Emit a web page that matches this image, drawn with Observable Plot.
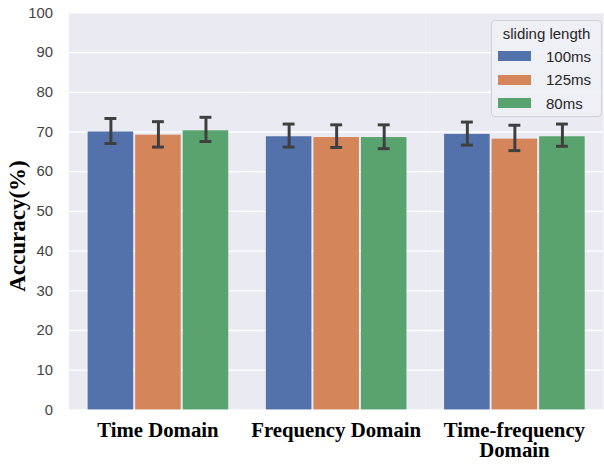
<!DOCTYPE html>
<html>
<head>
<meta charset="utf-8">
<script src="https://cdn.jsdelivr.net/npm/d3@7"></script>
<script src="https://cdn.jsdelivr.net/npm/@observablehq/plot@0.6"></script>
<style>
  html, body { margin: 0; padding: 0; background: #fff; overflow: hidden; }
  #wrap { position: relative; width: 604px; height: 466px; overflow: hidden; }
  #legend {
    position: absolute; left: 491px; top: 20px; width: 111px; height: 97px;
    border: 1px solid #d0d0d6; border-radius: 4px; background: rgba(240,240,246,0.9);
    font-family: "Liberation Sans", Arial, sans-serif; font-size: 15px; color: #262626;
    box-sizing: border-box;
  }
  #legend .title { position: absolute; left: 0; width: 100%; top: 4px; text-align: center; }
  #legend .row { position: absolute; left: 6px; height: 18px; display: flex; align-items: center; }
  #legend .sw { width: 33px; height: 10px; margin-right: 15px; }
  #ylabel {
    position: absolute; left: 17px; top: 226px; white-space: nowrap;
    transform: translate(-50%, -50%) rotate(-90deg);
    font-family: "Liberation Serif", "Times New Roman", serif; font-weight: bold; font-size: 23px; color: #000;
    line-height: 1;
  }
</style>
</head>
<body>
<div id="wrap"></div>
<script>
const categories = ["Time Domain", "Frequency Domain", "Time-frequency Domain"];
const categoryLabels = ["Time Domain", "Frequency Domain", "Time-frequency\nDomain"];
const series = ["100ms", "125ms", "80ms"];
const colors = ["#5371AA", "#D5855A", "#59A36E"];
const yLabel = "Accuracy(%)";
const legendTitle = "sliding length";

const mean100 = [70.0, 68.8, 69.4];
const lo100   = [67.1, 66.2, 66.7];
const hi100   = [73.4, 72.0, 72.5];
const mean125 = [69.2, 68.6, 68.2];
const lo125   = [66.2, 66.1, 65.3];
const hi125   = [72.6, 71.8, 71.7];
const mean80  = [70.3, 68.6, 68.8];
const lo80    = [67.6, 65.8, 66.4];
const hi80    = [73.7, 71.8, 72.0];
const yTicks = [0, 10, 20, 30, 40, 50, 60, 70, 80, 90, 100];

const means = [mean100, mean125, mean80];
const los = [lo100, lo125, lo80];
const his = [hi100, hi125, hi80];
const data = [];
categories.forEach((c, i) => series.forEach((s, j) => {
  data.push({cat: c, len: s, acc: means[j][i], lo: los[j][i], hi: his[j][i]});
}));
const labelOf = new Map(categories.map((c, i) => [c, categoryLabels[i]]));

const errColor = "#3f3f3f";
const chart = Plot.plot({
  width: 610,
  height: 466,
  marginLeft: 68.5,
  marginRight: 0,
  marginTop: 12.5,
  marginBottom: 52.5,
  style: {background: "transparent"},
  fx: {domain: categories, padding: 0, axis: null, label: null},
  x: {domain: series, paddingInner: 0, paddingOuter: 0.375, axis: null},
  y: {domain: [0, 100], axis: null},
  color: {domain: series, range: colors},
  marks: [
    Plot.frame({fill: "#EAEAF2", stroke: null}),
    Plot.gridY(yTicks, {stroke: "white", strokeOpacity: 1, strokeWidth: 1.3}),
    Plot.barY(data, {fx: "cat", x: "len", y: "acc", fill: "len", insetLeft: 1, insetRight: 1}),
    Plot.ruleX(data, {fx: "cat", x: "len", y1: "lo", y2: "hi", stroke: errColor, strokeWidth: 3}),
    Plot.tickY(data, {fx: "cat", x: "len", y: "hi", stroke: errColor, strokeWidth: 3, insetLeft: 18, insetRight: 18}),
    Plot.tickY(data, {fx: "cat", x: "len", y: "lo", stroke: errColor, strokeWidth: 3, insetLeft: 18, insetRight: 18}),
    Plot.axisY(yTicks, {tickSize: 0, tickPadding: 16, fontSize: 15, fontFamily: "Liberation Sans, Arial, sans-serif", fill: "#444", label: null}),
    Plot.axisFx({anchor: "bottom", tickSize: 0, tickPadding: 12, fontSize: 21, fontWeight: "bold", fontFamily: "Liberation Serif, Times New Roman, serif", fill: "#000", label: null, tickFormat: d => labelOf.get(d), lineHeight: 1})
  ]
});
const wrap = document.getElementById("wrap");
wrap.appendChild(chart);

const yl = document.createElement("div");
yl.id = "ylabel";
yl.textContent = yLabel;
wrap.appendChild(yl);

// legend overlay
const legend = document.createElement("div");
legend.id = "legend";
const t = document.createElement("div");
t.className = "title";
t.textContent = legendTitle;
legend.appendChild(t);
series.forEach((s, j) => {
  const row = document.createElement("div");
  row.className = "row";
  row.style.top = (26 + j * 23.5) + "px";
  const sw = document.createElement("div");
  sw.className = "sw";
  sw.style.background = colors[j];
  const lab = document.createElement("span");
  lab.textContent = s;
  row.appendChild(sw);
  row.appendChild(lab);
  legend.appendChild(row);
});
wrap.appendChild(legend);
</script>
</body>
</html>
